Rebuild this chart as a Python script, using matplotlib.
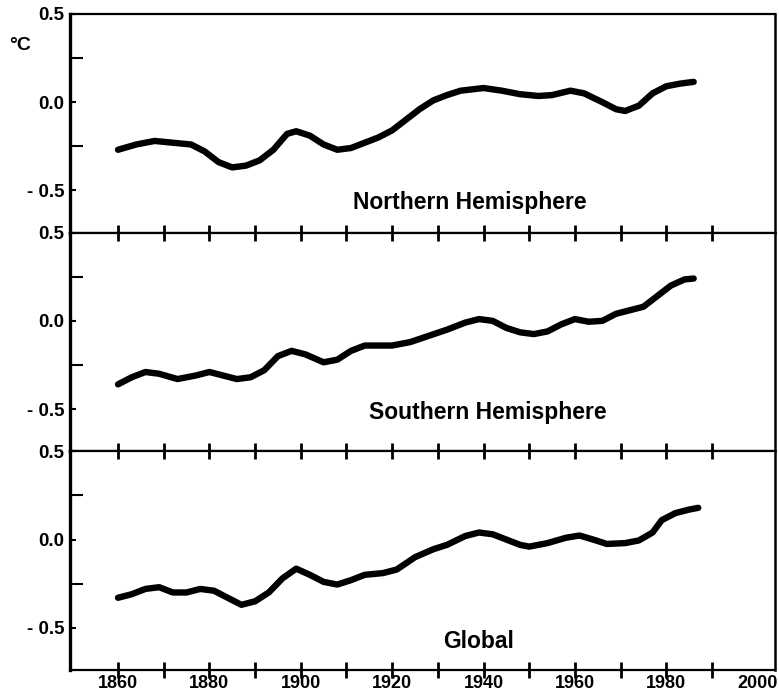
import matplotlib
matplotlib.use("Agg")
import matplotlib.pyplot as plt

# Temperature anomalies (deg C)
nh_years = [1860, 1864, 1868, 1872, 1876, 1879, 1882, 1885, 1888, 1891, 1894, 1897,
            1899, 1902, 1905, 1908, 1911, 1914, 1917, 1920, 1923, 1926, 1929, 1932,
            1935, 1940, 1944, 1948, 1952, 1955, 1959, 1962, 1966, 1969, 1971, 1974,
            1977, 1980, 1983, 1986]
nh_vals = [-0.27, -0.24, -0.22, -0.23, -0.24, -0.28, -0.34, -0.37, -0.36, -0.33, -0.27, -0.18,
           -0.165, -0.19, -0.24, -0.27, -0.26, -0.23, -0.20, -0.16, -0.10, -0.04, 0.01, 0.04,
           0.065, 0.08, 0.065, 0.045, 0.035, 0.04, 0.065, 0.05, 0.0, -0.04, -0.05, -0.02,
           0.05, 0.09, 0.105, 0.115]

sh_years = [1860, 1863, 1866, 1869, 1873, 1877, 1880, 1883, 1886, 1889, 1892, 1895,
            1898, 1901, 1905, 1908, 1911, 1914, 1917, 1920, 1924, 1928, 1932, 1936,
            1939, 1942, 1945, 1948, 1951, 1954, 1957, 1960, 1963, 1966, 1969, 1972,
            1975, 1978, 1981, 1984, 1986]
sh_vals = [-0.36, -0.32, -0.29, -0.30, -0.33, -0.31, -0.29, -0.31, -0.33, -0.32, -0.28, -0.20,
           -0.17, -0.19, -0.235, -0.22, -0.17, -0.14, -0.14, -0.14, -0.12, -0.085, -0.05, -0.01,
           0.01, 0.0, -0.04, -0.065, -0.075, -0.06, -0.02, 0.01, -0.005, 0.0, 0.04, 0.06,
           0.08, 0.14, 0.20, 0.235, 0.24]

gl_years = [1860, 1863, 1866, 1869, 1872, 1875, 1878, 1881, 1884, 1887, 1890, 1893,
            1896, 1899, 1902, 1905, 1908, 1911, 1914, 1918, 1921, 1925, 1929, 1932,
            1936, 1939, 1942, 1945, 1948, 1950, 1954, 1958, 1961, 1964, 1967, 1971,
            1974, 1977, 1979, 1982, 1985, 1987]
gl_vals = [-0.33, -0.31, -0.28, -0.27, -0.30, -0.30, -0.28, -0.29, -0.33, -0.37, -0.35, -0.30,
           -0.22, -0.165, -0.20, -0.24, -0.255, -0.23, -0.20, -0.19, -0.17, -0.10, -0.055, -0.03,
           0.02, 0.04, 0.03, 0.0, -0.03, -0.04, -0.02, 0.01, 0.023, 0.0, -0.025, -0.02,
           -0.005, 0.04, 0.11, 0.15, 0.17, 0.18]

panels = [
    (nh_years, nh_vals, "Northern Hemisphere", 1937, -0.57),
    (sh_years, sh_vals, "Southern Hemisphere", 1941, -0.52),
    (gl_years, gl_vals, "Global", 1939, -0.58),
]

year_ticks = list(range(1860, 2001, 10))
year_labels = [str(y) if y % 20 == 0 else "" for y in year_ticks]
temp_ticks = [-0.5, 0.0, 0.5]
temp_labels = ["- 0.5", "0.0", "0.5"]

plt.rcParams["font.family"] = ["Liberation Sans", "DejaVu Sans"]
plt.rcParams["font.weight"] = "bold"

fig, axes = plt.subplots(3, 1, sharex=True, figsize=(7.79, 6.98), dpi=100)
fig.subplots_adjust(left=0.0899, right=0.9949, top=0.98, bottom=0.04, hspace=0)

for i, (ax, (yrs, vals, name, tx, ty)) in enumerate(zip(axes, panels)):
    ax.plot(yrs, vals, color="black", lw=4.6, solid_capstyle="round", solid_joinstyle="round")
    ax.set_xlim(1849.5, 2003.8)
    ax.set_ylim(-0.74, 0.5)
    ax.set_yticks(temp_ticks)
    ax.set_yticklabels(temp_labels, fontsize=13.5, fontweight="bold")
    ax.set_yticks([-0.25, 0.25], minor=True)
    ax.tick_params(axis="y", which="major", direction="in", length=4, width=1.5, pad=4)
    ax.tick_params(axis="y", which="minor", direction="in", length=9, width=1.5)
    ax.text(tx, ty, name, ha="center", va="center", fontsize=16.5, fontweight="bold")

    ax.spines["left"].set_linewidth(2.4)
    ax.spines["right"].set_linewidth(1.8)
    ax.spines["top"].set_linewidth(1.6)
    ax.spines["bottom"].set_linewidth(1.6)

    ax.set_xticks(year_ticks)
    if i == 0:
        ax.tick_params(axis="x", bottom=False, top=False)
    elif i == 1:
        ax.tick_params(axis="x", bottom=False, top=True, direction="inout", length=11, width=2)
    else:
        ax.tick_params(axis="x", bottom=True, top=True, direction="inout", length=11, width=2)
        ax.set_xticklabels(year_labels, fontsize=13, fontweight="bold")
        # bottom ticks point inward only
        for t in ax.xaxis.get_major_ticks():
            t.tick1line.set_marker(matplotlib.lines.TICKUP)
            t.tick1line.set_markersize(6)
            t.set_pad(-2)
        ax.xaxis.get_major_ticks()[-1].tick1line.set_visible(False)
    ax.xaxis.get_major_ticks()[-1].tick2line.set_visible(False)

fig.text(20 / 779, 1 - 45 / 698, "°C", ha="center", va="center", fontsize=14, fontweight="bold")

fig.savefig("out.png", dpi=100)
